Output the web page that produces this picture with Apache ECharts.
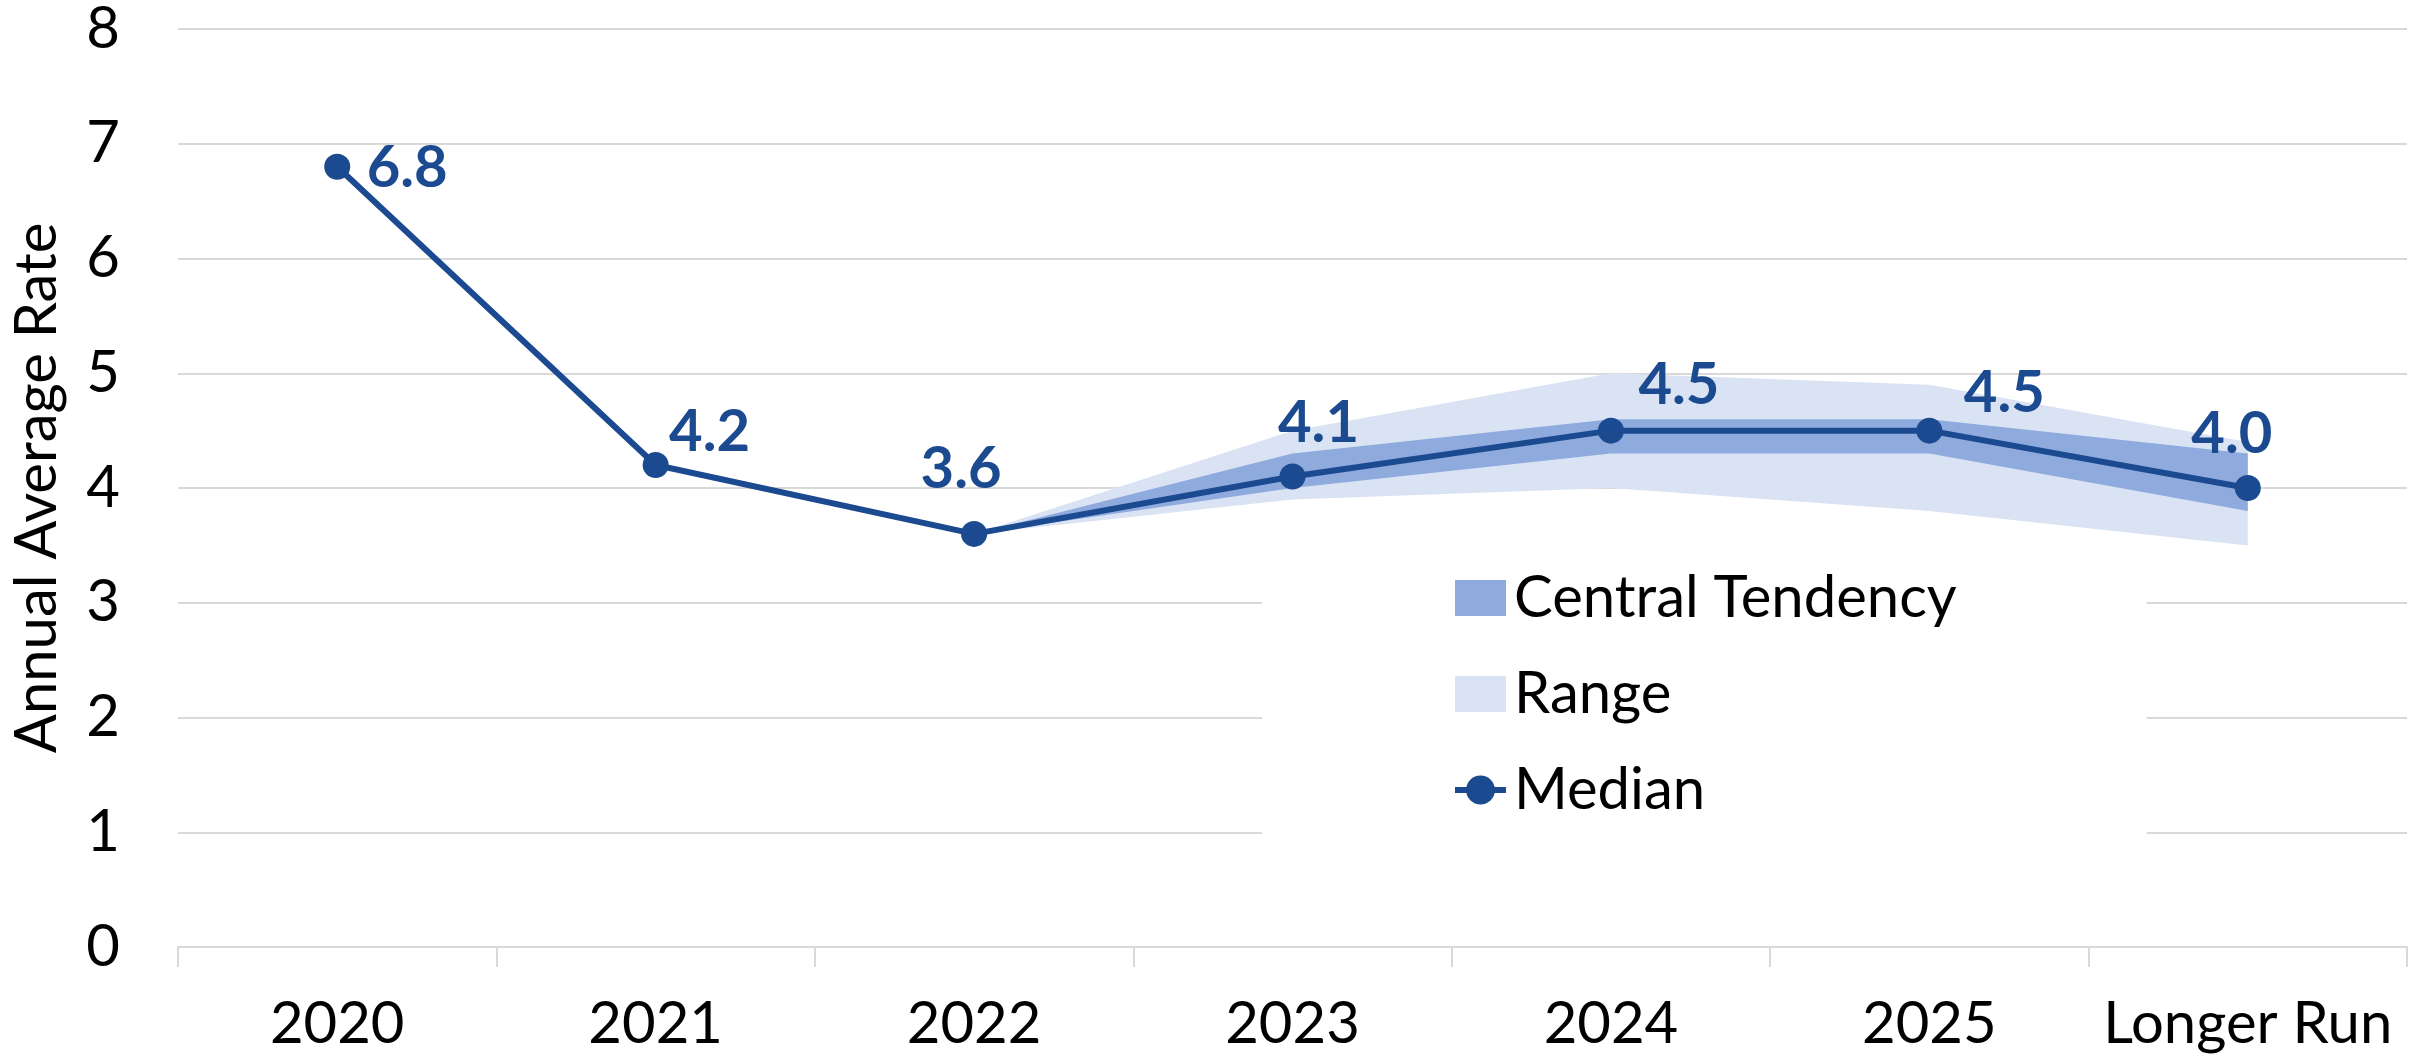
<!DOCTYPE html>
<html>
<head>
<meta charset="utf-8">
<script src="https://cdn.jsdelivr.net/npm/echarts@6/dist/echarts.min.js"></script>
<style>
  html, body { margin: 0; padding: 0; background: #fff; }
  #chart { width: 2427px; height: 1059px; }
</style>
</head>
<body>
<div id="chart"></div>
<script>
// data
let categories = ['2020', '2021', '2022', '2023', '2024', '2025', 'Longer Run'];
let median = [6.8, 4.2, 3.6, 4.1, 4.5, 4.5, 4.0];
let rangeLow = ['-', '-', 3.6, 3.9, 4.0, 3.8, 3.5];
let rangeHigh = ['-', '-', 3.6, 4.5, 5.0, 4.9, 4.4];
let ctLow = ['-', '-', 3.6, 4.0, 4.3, 4.3, 3.8];
let ctHigh = ['-', '-', 3.6, 4.3, 4.6, 4.6, 4.3];

// label placement (px from the point)
let labelOffsets = [[70, 2], [54, -33], [-13, -65], [26, -53], [68, -45], [75, -37], [-16, -54]];

let blue = '#1B4A91';
let ctColor = '#8FAADC';
let rangeColor = '#DAE3F3';
let grey = '#D9D9D9';
let font = 'Lato';
let fs = 58;

function diff(hi, lo){
  return hi.map(function(v, i){
    if(v === '-') return '-';
    return +(v - lo[i]).toFixed(2);
  });
}

let medianData = median.map(function(v, i){
  return {
    value: v,
    label: { offset: labelOffsets[i] }
  };
});

let bandBase = {
  type: 'line',
  symbol: 'none',
  showSymbol: false,
  silent: true,
  lineStyle: { width: 0, opacity: 0 },
};

let chart = echarts.init(document.getElementById('chart'));

let opt = {
  animation: false,
  backgroundColor: '#fff',
  grid: { left: 175, right: 20, top: 29, bottom: 112 },
  legend: {
    orient: 'vertical',
    left: 1262,
    top: 550,
    padding: [18, 190, 25, 190],
    backgroundColor: '#fff',
    itemWidth: 51,
    itemHeight: 36,
    itemGap: 36,
    selectedMode: false,
    textStyle: { fontFamily: font, fontSize: fs, color: '#000', lineHeight: 60, padding: [0, 0, 0, 3] },
    data: [
      { name: 'Central Tendency', icon: 'rect', itemStyle: { color: ctColor } },
      { name: 'Range', icon: 'rect', itemStyle: { color: rangeColor } },
      { name: 'Median', lineStyle: { width: 6, color: blue } }
    ]
  },
  xAxis: {
    type: 'category',
    data: categories,
    boundaryGap: true,
    axisLine: { lineStyle: { color: grey, width: 2 } },
    axisTick: { show: true, interval: 0, length: 20, lineStyle: { color: grey, width: 2 } },
    axisLabel: { interval: 0, fontFamily: font, fontSize: fs, color: '#000', margin: 48 },
  },
  yAxis: {
    type: 'value',
    min: 0,
    max: 8,
    interval: 1,
    name: 'Annual Average Rate',
    nameLocation: 'middle',
    nameGap: 112,
    nameTextStyle: { fontFamily: font, fontSize: fs, color: '#000' },
    axisLine: { show: false },
    axisTick: { show: false },
    axisLabel: { fontFamily: font, fontSize: fs, color: '#000', margin: 58 },
    splitLine: { lineStyle: { color: grey, width: 2 } },
  },
  series: [
    Object.assign({}, bandBase, { name: 'rangeLow', stack: 'range', data: rangeLow }),
    Object.assign({}, bandBase, {
      name: 'Range', stack: 'range', data: diff(rangeHigh, rangeLow),
      itemStyle: { color: rangeColor },
      areaStyle: { color: rangeColor, opacity: 1 }
    }),
    Object.assign({}, bandBase, { name: 'ctLow', stack: 'ct', data: ctLow }),
    Object.assign({}, bandBase, {
      name: 'Central Tendency', stack: 'ct', data: diff(ctHigh, ctLow),
      itemStyle: { color: ctColor },
      areaStyle: { color: ctColor, opacity: 1 }
    }),
    {
      name: 'Median',
      type: 'line',
      data: medianData,
      symbol: 'circle',
      symbolSize: 26,
      itemStyle: { color: blue },
      lineStyle: { color: blue, width: 6 },
      label: {
        show: true,
        position: 'inside',
        formatter: function(p){ return p.value.toFixed(1); },
        fontFamily: font,
        fontSize: fs,
        fontWeight: 'bold',
        color: blue
      }
    }
  ]
};
chart.setOption(opt);
</script>
</body>
</html>
